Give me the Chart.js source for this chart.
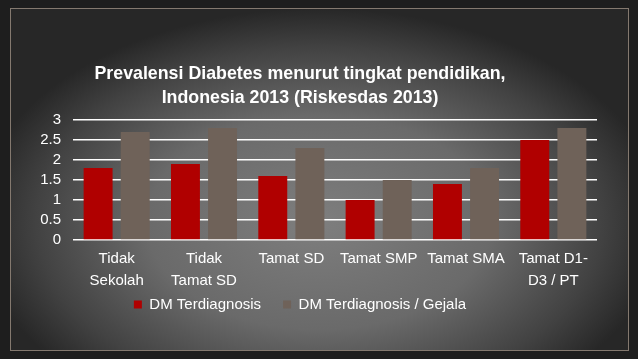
<!DOCTYPE html>
<html>
<head>
<meta charset="utf-8">
<script src="https://cdn.jsdelivr.net/npm/chart.js@4/dist/chart.umd.min.js"></script>
<style>
  html, body { margin: 0; padding: 0; background: #1f1f1f; }
  #wrap { width: 638px; height: 359px; }
</style>
</head>
<body>
<div id="wrap"><canvas id="chart" width="638" height="359"></canvas></div>
<script>
"use strict";

// chart data
const categories = [
  ['Tidak', 'Sekolah'],
  ['Tidak', 'Tamat SD'],
  'Tamat SD',
  'Tamat SMP',
  'Tamat SMA',
  ['Tamat D1-', 'D3 / PT']
];
const dmTerdiagnosis = [1.8, 1.9, 1.6, 1.0, 1.4, 2.5];
const dmGejala = [2.7, 2.8, 2.3, 1.5, 1.8, 2.8];
const yTickValues = [0, 0.5, 1, 1.5, 2, 2.5, 3];

const FONT = '"Liberation Sans", Arial, sans-serif';

// slide background: dark frame + radial grey gradient
const slideBg = {
  id: 'slideBg',
  beforeDraw(chart) {
    const ctx = chart.ctx;
    const w = chart.width, h = chart.height;
    let x0 = 10, y0 = 8, x1 = 629, y1 = 351;
    ctx.save();
    ctx.fillStyle = '#1e1e1e';
    ctx.fillRect(0, 0, w, h);
    ctx.beginPath();
    ctx.rect(x0, y0, x1 - x0, y1 - y0);
    ctx.clip();
    ctx.translate(w / 2, h * 0.62);
    ctx.scale(1, 0.62);
    let g = ctx.createRadialGradient(0, 0, 0, 0, 0, 345);
    g.addColorStop(0, '#7e7e7e');
    g.addColorStop(0.5, '#6a6a6a');
    g.addColorStop(0.82, '#424242');
    g.addColorStop(1, '#272727');
    ctx.fillStyle = g;
    ctx.fillRect(-w, -h * 2, w * 2, h * 4);
    ctx.restore();
    ctx.save();
    ctx.strokeStyle = '#84796f';
    ctx.lineWidth = 1;
    ctx.strokeRect(x0 + 0.5, y0 + 0.5, x1 - x0 - 1, y1 - y0 - 1);
    ctx.restore();
  }
};

// the slide legend sits closer to the axis labels than its item spacing
// would allow, so shrink the legend box and pull the drawing up a bit
const legendTuck = {
  id: 'legendTuck',
  afterInit(chart) {
    let legend = chart.legend;
    if (!legend) return;
    let fit = legend.fit, draw = legend.draw;
    legend.fit = function () {
      fit.apply(this, arguments);
      this.height = 42;
    };
    legend.draw = function () {
      this.ctx.save();
      this.ctx.translate(0, -17);
      draw.apply(this, arguments);
      this.ctx.restore();
    };
  }
};

let canvas = document.getElementById('chart');
let chart = new Chart(canvas.getContext('2d'), {
  type: 'bar',
  data: {
    labels: categories,
    datasets: [{
      label: 'DM Terdiagnosis',
      data: dmTerdiagnosis,
      backgroundColor: '#b00000'
    }, {
      label: 'DM Terdiagnosis / Gejala',
      data: dmGejala,
      backgroundColor: '#6f6259'
    }]
  },
  plugins: [slideBg, legendTuck],
  options: {
    responsive: false,
    animation: false,
    devicePixelRatio: 1,
    layout: {
      padding: { left: 3, right: 41, top: 62, bottom: 25 }
    },
    datasets: {
      bar: {
        categoryPercentage: 0.85,
        barPercentage: 0.78
      }
    },
    plugins: {
      title: {
        display: true,
        text: ['Prevalensi Diabetes menurut tingkat pendidikan,', 'Indonesia 2013 (Riskesdas 2013)'],
        color: '#ffffff',
        font: { family: FONT, size: 17.8, weight: 'bold', lineHeight: 1.35 },
        padding: { top: 0, bottom: 10 }
      },
      legend: {
        position: 'bottom',
        labels: {
          color: '#ffffff',
          font: { family: FONT, size: 15 },
          boxWidth: 8,
          boxHeight: 8,
          padding: 22
        }
      },
      tooltip: { enabled: false }
    },
    scales: {
      x: {
        grid: { display: false },
        border: { display: false },
        ticks: {
          color: '#ffffff',
          font: { family: FONT, size: 15, lineHeight: 1.47 },
          maxRotation: 0,
          autoSkip: false,
          padding: 0
        }
      },
      y: {
        min: 0,
        max: 3,
        afterFit(scale) { scale.width = 70; },
        afterBuildTicks(scale) { scale.ticks = yTickValues.map(v => ({ value: v })); },
        grid: { color: '#ffffff', lineWidth: 1.5, drawTicks: false },
        border: { display: false },
        ticks: {
          autoSkip: false,
          color: '#ffffff',
          font: { family: FONT, size: 15 },
          padding: 12,
          callback: v => String(v)
        }
      }
    }
  }
});
</script>
</body>
</html>
